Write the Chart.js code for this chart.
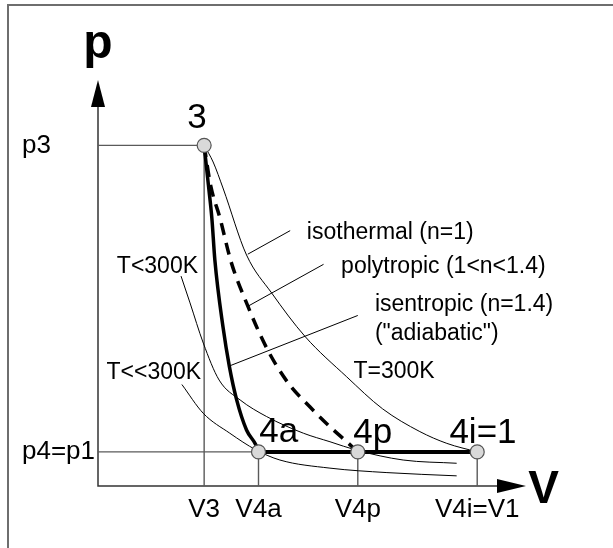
<!DOCTYPE html>
<html><head><meta charset="utf-8">
<style>html,body{margin:0;padding:0;background:#fff}canvas{display:block}</style>
<script src="https://cdn.jsdelivr.net/npm/chart.js@4/dist/chart.umd.min.js"></script>
</head><body>
<canvas id="c" width="613" height="548"></canvas>
<script>
// ---- data (arbitrary schematic units: V 0..100, p 0..100) ----
const stateNames = ['3', '4a', '4p', '4i=1'];
const stateV = [24.8, 37.5, 60.7, 88.6];
const stateP = [83.9, 8.4, 8.4, 8.4];

const xTickValues = [24.8, 37.5, 60.7, 88.6];
const xTickLabels = ['V3', 'V4a', 'V4p', 'V4i=V1'];
const yTickValues = [8.4, 83.9];
const yTickLabels = ['p4=p1', 'p3'];

const isothermalV = [24.8, 26.9, 29.2, 34.7, 40.6, 48.4, 58.1, 66.5, 75.2, 81.5, 88.6];
const isothermalP = [83.9, 79.8, 73.4, 56.9, 47.5, 36.8, 26.9, 19.0, 13.4, 10.5, 8.4];
const polytropicV = [24.8, 26.3, 28.5, 31.1, 34.7, 39.4, 44.4, 49.5, 54.2, 58.1, 60.7];
const polytropicP = [83.9, 74.1, 66.0, 55.2, 45.1, 34.0, 25.4, 19.5, 14.6, 10.9, 8.4];
const isentropicV = [24.8, 25.8, 26.6, 27.3, 29.2, 30.7, 32.4, 34.7, 36.9, 37.5];
const isentropicP = [83.9, 74.1, 66.0, 55.7, 39.2, 29.4, 21.2, 13.8, 10.1, 8.4];
const isobarV = [37.5, 88.6];
const isobarP = [8.4, 8.4];
const tBelowV = [19.4, 21.5, 24.6, 28.3, 33.2, 39.4, 48.0, 54.2, 60.5, 71.3, 83.8];
const tBelowP = [51.7, 45.1, 35.2, 26.1, 21.2, 17.1, 13.0, 10.9, 8.8, 6.4, 5.6];
const tFarBelowV = [19.6, 24.6, 30.8, 36.9, 42.5, 54.2, 67.5, 83.8];
const tFarBelowP = [25.0, 17.9, 13.0, 8.9, 6.4, 4.4, 3.3, 2.5];

const isothermalLeaderV = [35.0, 44.9];
const isothermalLeaderP = [57.1, 62.9];
const polytropicLeaderV = [34.9, 52.7];
const polytropicLeaderP = [44.2, 54.6];
const isentropicLeaderV = [30.8, 60.7];
const isentropicLeaderP = [29.6, 42.0];

const noteTexts = ['isothermal (n=1)', 'polytropic (1<n<1.4)', 'isentropic (n=1.4)', '("adiabatic")', 'T<300K', 'T<<300K', 'T=300K'];

// ---- layout / style (not data) ----
const notePos = [[48.8, 60.8], [56.8, 52.4], [64.7, 43.1], [64.7, 36.0], [4.4, 52.4], [2.0, 26.3], [59.7, 26.5]];
const statePos = [[23.1, 88.1, 'center'], [37.7, 10.9, 'left'], [59.65, 10.7, 'left'], [82.1, 10.7, 'left']];
const FONT = '"Liberation Sans", Arial, sans-serif';

const pts = (V, P) => V.map((v, i) => ({x: v, y: P[i]}));
const thin = (V, P) => ({data: pts(V, P), showLine: true, borderColor: '#000', borderWidth: 1, pointRadius: 0, cubicInterpolationMode: 'monotone'});
const straight = (V, P, color, w) => ({data: pts(V, P), showLine: true, borderColor: color, borderWidth: w, pointRadius: 0, tension: 0});

const dropColor = '#5a5a5a';
const datasets = [
  {data: pts(stateV, stateP), showLine: false, pointRadius: 7, pointHoverRadius: 7, backgroundColor: '#d9d9d9', borderColor: '#555', borderWidth: 1.2},
  {...thin(isentropicV, isentropicP), borderWidth: 3.5},
  {...thin(polytropicV, polytropicP), borderWidth: 3.5, borderDash: [12, 8]},
  straight(isobarV, isobarP, '#000', 4),
  thin(isothermalV, isothermalP),
  thin(tBelowV, tBelowP),
  thin(tFarBelowV, tFarBelowP),
  straight(isothermalLeaderV, isothermalLeaderP, '#000', 1),
  straight(polytropicLeaderV, polytropicLeaderP, '#000', 1),
  straight(isentropicLeaderV, isentropicLeaderP, '#000', 1),
  straight([0, stateV[0]], [stateP[0], stateP[0]], dropColor, 1.4),
  straight([stateV[0], stateV[0]], [0, stateP[0]], dropColor, 1.4),
  straight([0, stateV[1]], [stateP[1], stateP[1]], dropColor, 1.4),
  straight([stateV[1], stateV[1]], [0, stateP[1]], dropColor, 1.4),
  straight([stateV[2], stateV[2]], [0, stateP[2]], dropColor, 1.4),
  straight([stateV[3], stateV[3]], [0, stateP[3]], dropColor, 1.4)
];

const decor = {
  id: 'decor',
  beforeDatasetsDraw(chart) {
    const {ctx, scales: {x, y}} = chart;
    ctx.save();
    // outer frame (top and left edges)
    ctx.strokeStyle = '#6e6e6e'; ctx.lineWidth = 2;
    ctx.beginPath(); ctx.moveTo(8, 548); ctx.lineTo(8, 5); ctx.lineTo(613, 5); ctx.stroke();
    // axes with arrows
    const x0 = x.getPixelForValue(0), y0 = y.getPixelForValue(0);
    const xm = x.getPixelForValue(100), ym = y.getPixelForValue(100);
    ctx.strokeStyle = '#333'; ctx.lineWidth = 1.5;
    ctx.beginPath(); ctx.moveTo(x0, ym + 26); ctx.lineTo(x0, y0); ctx.lineTo(xm - 28, y0); ctx.stroke();
    ctx.fillStyle = '#000';
    ctx.beginPath(); ctx.moveTo(x0, ym); ctx.lineTo(x0 - 7, ym + 27); ctx.lineTo(x0 + 7, ym + 27); ctx.closePath(); ctx.fill();
    ctx.beginPath(); ctx.moveTo(xm, y0); ctx.lineTo(xm - 29, y0 - 7); ctx.lineTo(xm - 29, y0 + 7); ctx.closePath(); ctx.fill();
    ctx.restore();
  },
  afterDatasetsDraw(chart) {
    const {ctx, scales: {x, y}} = chart;
    ctx.save();
    ctx.fillStyle = '#000';
    ctx.textBaseline = 'alphabetic';
    // axis names
    ctx.font = 'bold 48px ' + FONT; ctx.textAlign = 'center';
    ctx.fillText('p', x.getPixelForValue(0), y.getPixelForValue(105.4));
    ctx.font = 'bold 46px ' + FONT; ctx.textAlign = 'left';
    ctx.fillText('V', x.getPixelForValue(100.5), y.getPixelForValue(-4.2));
    // notes
    ctx.font = '23px ' + FONT; ctx.textAlign = 'left';
    noteTexts.forEach((t, i) => ctx.fillText(t, x.getPixelForValue(notePos[i][0]), y.getPixelForValue(notePos[i][1])));
    // state labels
    ctx.font = '35px ' + FONT;
    stateNames.forEach((t, i) => { ctx.textAlign = statePos[i][2]; ctx.fillText(t, x.getPixelForValue(statePos[i][0]), y.getPixelForValue(statePos[i][1])); });
    ctx.restore();
  }
};

new Chart(document.getElementById('c'), {
  type: 'scatter',
  data: {datasets},
  options: {
    responsive: false, animation: false, events: [],
    layout: {padding: {left: 22, top: 80, right: 87, bottom: 0}},
    plugins: {legend: {display: false}, tooltip: {enabled: false}},
    scales: {
      x: {
        type: 'linear', min: 0, max: 100,
        grid: {display: false, drawTicks: false}, border: {display: false},
        afterBuildTicks: s => { s.ticks = xTickValues.map(v => ({value: v})); },
        afterFit: s => { s.height = 62; },
        ticks: {autoSkip: false, maxRotation: 0, minRotation: 0, padding: 8, color: '#000', font: {family: FONT, size: 26},
          callback: (v, i) => xTickLabels[i]}
      },
      y: {
        type: 'linear', min: 0, max: 100,
        grid: {display: false, drawTicks: false}, border: {display: false},
        afterBuildTicks: s => { s.ticks = yTickValues.map(v => ({value: v})); },
        afterFit: s => { s.width = 76; },
        ticks: {autoSkip: false, crossAlign: 'far', color: '#000', font: {family: FONT, size: 26},
          callback: (v, i) => yTickLabels[i]}
      }
    }
  },
  plugins: [decor]
});
</script>
</body></html>
